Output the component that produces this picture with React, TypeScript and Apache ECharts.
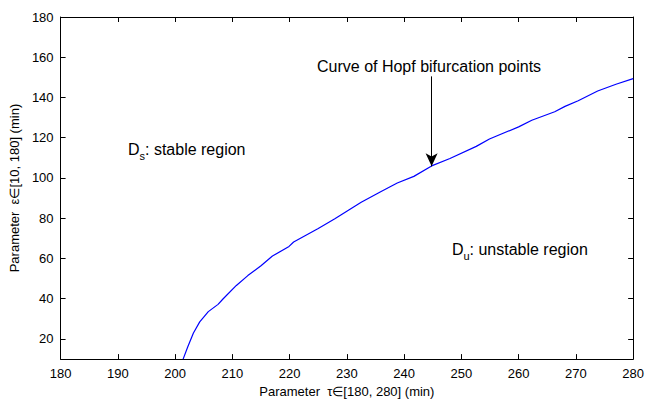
import React, { useEffect, useRef } from "react";
import * as echarts from "echarts";

const tau = [201.4, 202.2, 203.2, 204.3, 205.8, 207.5, 208.4, 210.7, 212.7, 215.0, 217.0, 219.9, 220.7, 225.0, 227.9, 232.5, 235.9, 238.8, 241.7, 244.8, 248.0, 252.6, 254.9, 260.0, 262.3, 266.3, 268.1, 270.4, 273.8, 277.0, 280.0];
const eps = [10, 16, 23, 28.5, 33.6, 37.2, 40, 46.6, 51.5, 56.4, 61.2, 66.0, 68.2, 74.9, 79.7, 87.9, 93.2, 97.5, 100.8, 106.0, 109.7, 115.7, 119.4, 125.4, 128.7, 132.9, 135.6, 138.4, 143.2, 146.6, 149.4];
const xTicks = [180, 190, 200, 210, 220, 230, 240, 250, 260, 270, 280];
const yTicks = [20, 40, 60, 80, 100, 120, 140, 160, 180];
const arrowFrom = [244.8, 150.5];
const arrowTo = [244.8, 105.8];

const FONT = "Liberation Sans, Arial, Helvetica, sans-serif";

export default function App() {
  const ref = useRef<HTMLDivElement>(null);
  useEffect(() => {
    const chart = echarts.init(ref.current!, null, { renderer: "svg" });
    const axisLine = { show: true, lineStyle: { color: "#000", width: 1 } };
    const tick = { show: true, inside: true, length: 5, lineStyle: { color: "#000" } };
    const txt = (text: string, x: number, y: number, size: number) => ({
      type: "text", x, y, style: { text, fontSize: size, fontFamily: FONT, fill: "#000" },
    });
    chart.setOption({
      animation: false,
      backgroundColor: "#fff",
      grid: { left: 55, top: 17, right: 11, bottom: 36, containLabel: false },
      xAxis: [
        {
          type: "value", min: 180, max: 280, position: "bottom",
          axisLine, axisTick: { ...tick, customValues: xTicks },
          axisLabel: { customValues: xTicks, color: "#000", fontSize: 13, fontFamily: FONT, margin: 8 },
          splitLine: { show: false },
          name: "Parameter  τ∈[180, 280] (min)", nameLocation: "middle", nameGap: 23,
          nameTextStyle: { color: "#000", fontSize: 13, fontFamily: FONT },
        },
        {
          type: "value", min: 180, max: 280, position: "top",
          axisLine, axisTick: { ...tick, customValues: xTicks },
          axisLabel: { show: false }, splitLine: { show: false },
        },
      ],
      yAxis: [
        {
          type: "value", min: 10, max: 180, position: "left",
          axisLine, axisTick: { ...tick, customValues: yTicks },
          axisLabel: { customValues: yTicks, color: "#000", fontSize: 13, fontFamily: FONT, margin: 7 },
          splitLine: { show: false },
          name: "Parameter  ε∈[10, 180] (min)", nameLocation: "middle", nameGap: 35,
          nameTextStyle: { color: "#000", fontSize: 13, fontFamily: FONT },
        },
        {
          type: "value", min: 10, max: 180, position: "right",
          axisLine, axisTick: { ...tick, customValues: yTicks },
          axisLabel: { show: false }, splitLine: { show: false },
        },
      ],
      series: [
        {
          type: "line",
          data: tau.map((t, i) => [t, eps[i]]),
          showSymbol: false,
          lineStyle: { color: "#0000ff", width: 1.2 },
          clip: true,
          markLine: {
            silent: true,
            symbol: ["none", "arrow"],
            symbolSize: [9, 13],
            label: { show: false },
            lineStyle: { color: "#000", width: 1, type: "solid" },
            data: [[{ coord: arrowFrom }, { coord: arrowTo }]],
          },
        },
      ],
      graphic: [
        { type: "text", left: 317, top: 58, style: { text: "Curve of Hopf bifurcation points", fontSize: 16, fontFamily: FONT, fill: "#000" } },
        {
          type: "group", left: 128, top: 141,
          children: [txt("D", 0, 0, 16), txt("s", 11.5, 9, 11), txt(": stable region", 17, 0, 16)],
        },
        {
          type: "group", left: 452, top: 241,
          children: [txt("D", 0, 0, 16), txt("u", 11.5, 9, 11), txt(": unstable region", 17.5, 0, 16)],
        },
      ],
    });
    return () => chart.dispose();
  }, []);
  return <div ref={ref} style={{ width: 647, height: 403, position: "fixed", left: 0, top: 0 }} />;
}
